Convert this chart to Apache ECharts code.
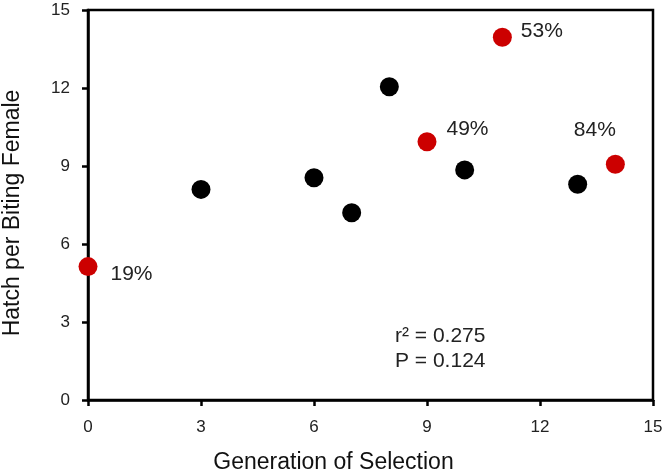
<!DOCTYPE html>
<html>
<head>
<meta charset="utf-8">
<script src="https://cdn.jsdelivr.net/npm/echarts@6/dist/echarts.min.js"></script>
<style>
  html, body { margin: 0; padding: 0; background: #fff; }
  #main { width: 665px; height: 476px; }
</style>
</head>
<body>
<div id="main"></div>
<script>
// generation of selection vs hatch per biting female
const generations = [0, 3, 6, 7, 8, 9, 10, 11, 13, 14];
const hatch = [5.13, 8.1, 8.55, 7.2, 12.05, 9.93, 8.85, 13.95, 8.3, 9.07];
const highlighted = [true, false, false, false, false, true, false, true, false, true];
const pctLabels = ["19%", "", "", "", "", "49%", "", "53%", "", "84%"];
const tickValues = [0, 3, 6, 9, 12, 15];

const chartDom = document.getElementById("main");
const myChart = echarts.init(chartDom);

// where each % label sits relative to its point
const labelOffsets = {
  "19%": [8, 8],
  "49%": [5, -13],
  "53%": [4, -6],
  "84%": [-56, -34],
};

const blackPts = [];
const redPts = [];
generations.forEach((g, i) => {
  if (highlighted[i]) {
    const txt = pctLabels[i];
    redPts.push({
      value: [g, hatch[i]],
      label: {
        show: true,
        formatter: txt,
        position: "right",
        offset: labelOffsets[txt] || [10, 0],
      },
    });
  } else {
    blackPts.push([g, hatch[i]]);
  }
});

const font = "'Liberation Sans', Arial, sans-serif";

const option = {
  animation: false,
  grid: {
    left: 88,
    right: 12,
    top: 10,
    bottom: 76,
    containLabel: false,
    outerBoundsMode: "none",
    show: true,
    borderColor: "#000",
    borderWidth: 2.5,
  },
  xAxis: {
    type: "value",
    min: 0,
    max: 15,
    interval: 3,
    name: "Generation of Selection",
    nameLocation: "middle",
    nameGap: 51,
    nameTextStyle: { fontFamily: font, fontSize: 23, color: "#111", padding: [0, 74, 0, 0] },
    axisLine: { lineStyle: { color: "#000", width: 2.5 } },
    axisTick: { length: 6, lineStyle: { color: "#000", width: 2.5 } },
    axisLabel: { fontFamily: font, fontSize: 17, color: "#222", margin: 19 },
    splitLine: { show: false },
  },
  yAxis: {
    type: "value",
    min: 0,
    max: 15,
    interval: 3,
    name: "Hatch per Biting Female",
    nameLocation: "middle",
    nameGap: 64,
    nameMoveOverlap: false,
    nameTextStyle: { fontFamily: font, fontSize: 23, color: "#111", padding: [0, 16, 0, 0] },
    axisLine: { lineStyle: { color: "#000", width: 2.5 } },
    axisTick: { length: 6, lineStyle: { color: "#000", width: 2.5 } },
    axisLabel: { fontFamily: font, fontSize: 17, color: "#222", margin: 18 },
    splitLine: { show: false },
  },
  series: [
    {
      type: "scatter",
      symbolSize: 19,
      itemStyle: { color: "#000", opacity: 1 },
      data: blackPts,
    },
    {
      type: "scatter",
      symbolSize: 19,
      itemStyle: { color: "#cc0000", opacity: 1 },
      label: { fontFamily: font, fontSize: 21, color: "#222" },
      data: redPts,
    },
  ],
  graphic: [
    {
      type: "text",
      left: 395,
      top: 324,
      style: {
        text: "r² = 0.275\nP = 0.124",
        font: "21px " + font,
        fill: "#222",
        lineHeight: 25,
      },
    },
  ],
};

option && myChart.setOption(option);
</script>
</body>
</html>
